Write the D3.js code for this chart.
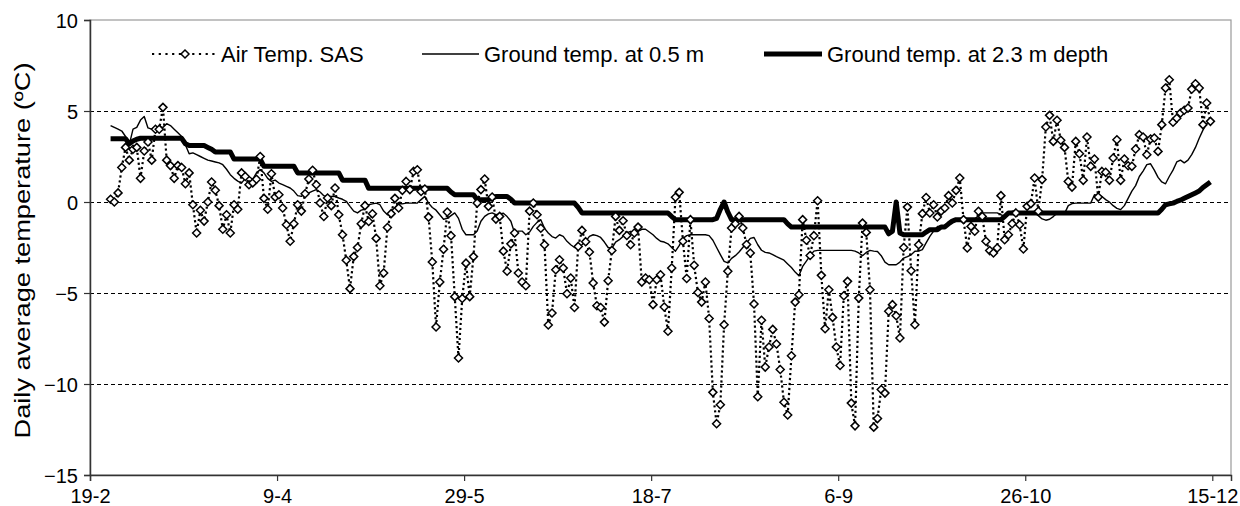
<!DOCTYPE html>
<html>
<head>
<meta charset="utf-8">
<script src="https://cdn.jsdelivr.net/npm/d3@7/dist/d3.min.js"></script>
<style>
  html, body { margin: 0; padding: 0; background: #fff; }
  svg { display: block; font-family: "Liberation Sans", Arial, sans-serif; }
</style>
</head>
<body>
<svg id="chart" width="1240" height="506"></svg>
<script>
// First day of the record and axis extent (2008, a leap year)
const firstDay = "2008-02-24";
const axisStart = "2008-02-19";
const axisEnd = "2008-12-20";

// Tick positions on the date axis (every 50 days)
const tickDates = ["2008-02-19", "2008-04-09", "2008-05-29", "2008-07-18",
                   "2008-09-06", "2008-10-26", "2008-12-15"];
const yTicks = [10, 5, 0, -5, -10, -15];
const gridValues = [5, 0, -5, -10];

// Daily average air temperature at SAS (ºC)
const airTemp = [
  0.15, 0.0, 0.5, 1.9, 3.0, 2.3, 2.9, 3.0, 1.3, 2.8,
  3.3, 2.3, 4.0, 4.0, 5.2, 2.3, 2.0, 1.3, 2.0, 1.9,
  1.0, 1.6, -0.15, -1.7, -0.45, -1.05, 0.0, 1.1, 0.65, -0.2,
  -1.5, -0.7, -1.7, -0.15, -0.4, 1.6, 1.4, 0.95, 1.05, 1.25,
  2.5, 0.2, -0.4, 1.55, 0.27, 0.4, -0.33, -1.25, -2.16, -1.2,
  -0.15, -0.5, 0.45, 1.26, 1.74, 0.95, -0.05, -0.8, 0.22, -0.2,
  0.77, -0.7, -1.8, -3.2, -4.76, -3.0, -2.5, -1.2, -0.2, -1.07,
  -0.65, -2.0, -4.6, -3.9, -1.4, -0.64, 0.2, -0.33, 0.64, 1.13,
  0.68, 1.68, 1.77, 0.58, 0.71, -0.83, -3.3, -6.87, -4.4, -2.6,
  -0.55, -1.85, -5.2, -8.57, -5.3, -3.36, -5.2, -3.0, -0.06, 0.68,
  1.26, -0.24, 0.27, -0.94, -0.79, -2.7, -3.8, -2.3, -1.7, -3.9,
  -4.4, -4.6, -0.5, -0.06, -0.7, -1.44, -2.35, -6.76, -6.1, -3.72,
  -3.17, -3.63, -5.04, -4.18, -5.8, -2.44, -1.56, -2.18, -2.75, -4.45,
  -5.7, -5.8, -6.6, -4.33, -2.66, -0.79, -1.56, -1.03, -1.84, -2.35,
  -1.7, -1.38, -4.4, -4.18, -4.27, -5.64, -4.27, -4.0, -5.77, -7.1,
  -3.63, 0.26, 0.53, -2.16, -4.2, -0.97, -3.48, -4.97, -5.5, -4.4,
  -6.4, -10.46, -12.18, -11.14, -6.74, -3.8, -1.43, -1.19, -0.79, -1.43,
  -2.34, -2.8, -5.6, -10.7, -6.5, -9.07, -7.97, -7.0, -7.8, -9.2,
  -11.0, -11.7, -8.45, -5.5, -5.1, -0.97, -2.1, -2.94, -1.85, 0.07,
  -4.03, -6.96, -4.82, -6.34, -7.97, -8.98, -5.15, -4.36, -11.05, -12.3,
  -5.28, -1.16, -1.67, -4.82, -12.37, -11.9, -10.3, -10.5, -6.0, -5.64,
  -6.25, -7.47, -2.5, -0.28, -3.78, -6.74, -2.35, -0.64, 0.25, -0.6,
  -0.15, -0.82, -0.5, -0.33, 0.35, -0.05, 0.64, 1.32, -0.97, -2.53,
  -1.34, -1.61, -0.51, -0.79, -2.16, -2.67, -2.8, -2.53, 0.35, -2.07,
  -1.8, -1.19, -0.6, -1.25, -2.58, -0.24, -0.09, 1.32, -0.51, 1.23,
  4.12, 4.76, 3.33, 4.49, 3.39, 3.0, 1.13, 0.82, 3.33, 2.65,
  1.19, 3.57, 1.96, 2.36, 0.27, 1.68, 1.63, 1.19, 2.42, 3.42,
  1.19, 2.36, 1.99, 1.96, 2.91, 3.7, 3.57, 2.6, 3.46, 3.52,
  2.78, 4.25, 6.26, 6.72, 4.38, 4.6, 4.89, 5.04, 5.16, 6.2,
  6.5, 6.26, 4.25, 5.44, 4.43
];

// Daily average ground temperature at 0.5 m (ºC)
const ground05 = [
  4.2, 4.1, 4.0, 3.9, 3.6, 3.15, 4.0, 4.1, 4.5, 4.7,
  4.07, 4.0, 4.1, 4.15, 4.1, 4.3, 4.2, 4.0, 3.8, 3.6,
  3.15, 2.65, 2.7, 2.6, 2.5, 2.4, 2.3, 2.25, 2.2, 2.15,
  2.05, 1.8, 1.5, 1.3, 1.15, 1.04, 1.3, 1.4, 1.25, 1.6,
  1.78, 1.6, 1.3, 1.13, 1.2, 1.04, 0.95, 0.86, 0.77, 0.6,
  0.35, 0.31, 0.46, 0.5, 0.6, 0.68, 0.55, 0.35, 0.31, 0.31,
  0.3, 0.22, 0.15, 0.04, -0.24, -0.5, -0.6, -0.45, -0.4, -0.15,
  -0.1, -0.06, -0.15, -0.5, -0.7, -0.51, -0.3, -0.1, -0.1, -0.06,
  -0.06, -0.06, -0.06, 0.13, 0.31, -0.06, -0.3, -0.45, -0.7, -0.95,
  -0.9, -0.75, -0.6, -0.9, -1.5, -1.8, -1.8, -1.8, -1.6, -1.06,
  -0.79, -0.65, -0.6, -0.7, -0.65, -0.62, -0.8, -1.06, -1.7, -1.6,
  -1.6, -1.8, -1.65, -1.34, -1.12, -0.97, -1.45, -1.7, -1.9, -1.98,
  -1.8, -1.89, -2.16, -2.35, -2.5, -2.53, -2.35, -2.16, -1.89, -1.8,
  -1.85, -1.95, -2.2, -2.5, -2.55, -2.2, -2.07, -1.89, -1.7, -1.61,
  -1.67, -1.61, -1.5, -1.5, -1.65, -1.8, -2.0, -2.16, -2.2, -2.3,
  -2.5, -2.7, -2.4, -2.0, -1.85, -1.8, -1.8, -1.8, -1.8, -1.8,
  -1.85, -2.1, -2.5, -2.89, -3.26, -3.35, -3.1, -2.95, -2.75, -2.5,
  -2.25, -2.0, -1.95, -2.35, -2.65, -2.77, -2.8, -2.89, -3.0, -3.1,
  -3.2, -3.4, -3.6, -3.85, -4.05, -3.54, -3.25, -2.95, -2.7, -2.66,
  -2.66, -2.66, -2.66, -2.66, -2.66, -2.66, -2.66, -2.66, -2.66, -2.7,
  -2.8, -2.95, -2.77, -2.66, -2.7, -2.72, -2.95, -3.3, -3.45, -3.45,
  -3.45, -3.3, -3.08, -3.0, -2.9, -2.71, -2.7, -2.62, -2.25, -1.89,
  -1.6, -1.35, -1.34, -1.3, -1.15, -1.06, -0.97, -0.97, -0.93, -0.93,
  -0.93, -0.93, -0.75, -0.6, -0.6, -0.6, -0.6, -0.6, -0.7, -0.79,
  -0.6, -0.51, -0.51, -0.55, -0.6, -0.57, -0.57, -0.6, -0.75, -0.93,
  -1.0, -0.95, -0.8, -0.62, -0.6, -0.64, -0.2, -0.09, -0.06, -0.06,
  -0.06, -0.06, -0.06, 0.4, 0.35, 0.3, 0.13, 0.0, -0.2, -0.35,
  -0.42, -0.2, 0.2, 0.6, 0.9, 1.4, 1.7, 2.05, 2.1, 1.75,
  1.35, 1.1, 1.0, 1.4, 1.75, 2.2, 2.3, 2.15, 2.3, 2.6,
  3.0, 3.5, 3.95, 4.3, 4.45
];

// Daily average ground temperature at 2.3 m depth (ºC)
const ground23 = [
  3.48, 3.48, 3.48, 3.48, 3.48, 3.2, 3.35, 3.45, 3.5, 3.5,
  3.5, 3.5, 3.5, 3.5, 3.5, 3.5, 3.5, 3.5, 3.5, 3.5,
  3.2, 3.1, 3.1, 3.1, 3.1, 3.1, 3.0, 2.9, 2.75, 2.75,
  2.75, 2.75, 2.75, 2.36, 2.36, 2.36, 2.36, 2.36, 2.36, 2.36,
  2.36, 1.96, 1.96, 1.96, 1.96, 1.96, 1.96, 1.96, 1.96, 1.96,
  1.6, 1.6, 1.6, 1.6, 1.6, 1.6, 1.6, 1.6, 1.6, 1.6,
  1.6, 1.6, 1.2, 1.2, 1.2, 1.2, 1.2, 1.2, 1.2, 0.75,
  0.75, 0.75, 0.75, 0.75, 0.75, 0.75, 0.75, 0.75, 0.75, 0.75,
  0.75, 0.75, 0.75, 0.75, 0.75, 0.75, 0.75, 0.75, 0.75, 0.75,
  0.75, 0.55, 0.4, 0.4, 0.4, 0.4, 0.4, 0.4, 0.13, 0.13,
  0.13, 0.13, 0.2, 0.3, 0.3, 0.3, 0.3, 0.15, -0.06, -0.06,
  -0.06, -0.06, -0.06, -0.06, -0.06, -0.06, -0.06, -0.06, -0.06, -0.06,
  -0.06, -0.06, -0.06, -0.06, -0.06, -0.3, -0.6, -0.6, -0.6, -0.6,
  -0.6, -0.6, -0.6, -0.6, -0.6, -0.6, -0.6, -0.6, -0.6, -0.6,
  -0.6, -0.6, -0.6, -0.6, -0.6, -0.6, -0.6, -0.6, -0.6, -0.6,
  -0.8, -0.97, -0.97, -0.97, -0.97, -0.97, -0.97, -0.97, -0.97, -0.97,
  -0.97, -0.97, -0.9, -0.4, 0.0, -0.55, -0.97, -0.97, -0.97, -0.97,
  -0.97, -0.97, -0.97, -0.97, -0.97, -0.97, -0.97, -0.97, -0.97, -0.97,
  -0.97, -1.2, -1.38, -1.38, -1.38, -1.38, -1.38, -1.38, -1.38, -1.38,
  -1.38, -1.38, -1.38, -1.38, -1.38, -1.38, -1.38, -1.38, -1.38, -1.38,
  -1.38, -1.38, -1.38, -1.38, -1.38, -1.38, -1.38, -1.38, -1.75, -1.6,
  0.0, -1.7, -1.8, -1.8, -1.8, -1.8, -1.8, -1.8, -1.65, -1.52,
  -1.52, -1.52, -1.37, -1.37, -1.2, -1.05, -0.97, -0.97, -0.97, -0.97,
  -0.97, -0.97, -0.97, -0.97, -0.97, -0.97, -0.97, -0.97, -0.97, -0.8,
  -0.6, -0.6, -0.6, -0.6, -0.6, -0.6, -0.6, -0.6, -0.6, -0.6,
  -0.6, -0.6, -0.6, -0.6, -0.6, -0.6, -0.6, -0.6, -0.6, -0.6,
  -0.6, -0.6, -0.6, -0.6, -0.6, -0.6, -0.6, -0.6, -0.6, -0.6,
  -0.6, -0.6, -0.6, -0.6, -0.6, -0.6, -0.6, -0.6, -0.6, -0.6,
  -0.6, -0.4, -0.15, -0.1, -0.06, 0.03, 0.1, 0.2, 0.3, 0.4,
  0.5, 0.6, 0.8, 0.95, 1.1
];

const legendLabels = ["Air Temp. SAS", "Ground temp. at 0.5 m", "Ground temp. at 2.3 m depth"];
const yTitle = "Daily average temperature (ºC)";

// ---- layout ----
const svg = d3.select("#chart");
const plot = { left: 90, right: 1231, top: 20, bottom: 475 };

const parse = d3.utcParse("%Y-%m-%d");
const fmt = d3.utcFormat("%-d-%-m");

const x = d3.scaleUtc()
  .domain([parse(axisStart), parse(axisEnd)])
  .range([plot.left, plot.right]);
const y = d3.scaleLinear().domain([-15, 10]).range([plot.bottom, plot.top]);

// daily values are placed at midday
const start = d3.utcHour.offset(parse(firstDay), 12);
const toSeries = arr => arr.map((v, i) => ({ date: d3.utcDay.offset(start, i), v }));
const airS = toSeries(airTemp);
const g05S = toSeries(ground05);
const g23S = toSeries(ground23);

// plot frame (light grey top/right edges)
svg.append("rect")
  .attr("x", plot.left).attr("y", plot.top)
  .attr("width", plot.right - plot.left).attr("height", plot.bottom - plot.top)
  .attr("fill", "none").attr("stroke", "#9a9a9a").attr("stroke-width", 1.2);

// dashed horizontal gridlines
svg.append("g").selectAll("line").data(gridValues).join("line")
  .attr("x1", plot.left).attr("x2", plot.right)
  .attr("y1", d => Math.round(y(d)) + 0.5).attr("y2", d => Math.round(y(d)) + 0.5)
  .attr("stroke", "#000").attr("stroke-width", 1)
  .attr("stroke-dasharray", "4,3");

// axes
const yAxis = d3.axisLeft(y).tickValues(yTicks).tickSize(6).tickPadding(6).tickFormat(d3.format("d"));
const gy = svg.append("g").attr("transform", `translate(${plot.left},0)`).call(yAxis);
const xAxis = d3.axisBottom(x).tickValues(tickDates.map(parse)).tickSize(6).tickPadding(8).tickFormat(fmt);
const gx = svg.append("g").attr("transform", `translate(0,${plot.bottom})`).call(xAxis);
[gx, gy].forEach(g => {
  g.select(".domain").attr("stroke", "#333").attr("stroke-width", 1.5);
  g.selectAll(".tick line").attr("stroke", "#333").attr("stroke-width", 1.2);
  g.selectAll("text").attr("fill", "#000").style("font-size", "20px")
    .style("font-family", '"Liberation Sans", Arial, sans-serif');
});
gy.selectAll("text").attr("dy", "0.36em");

// y axis title
svg.append("text")
  .attr("transform", `translate(30,${(plot.top + plot.bottom) / 2 + 3}) rotate(-90)`)
  .attr("text-anchor", "middle")
  .attr("textLength", 376).attr("lengthAdjust", "spacingAndGlyphs")
  .style("font-size", "22px")
  .text(yTitle);

// series lines
const line = d3.line().x(d => x(d.date)).y(d => y(d.v));

svg.append("path").datum(g23S)
  .attr("d", line).attr("fill", "none")
  .attr("stroke", "#000").attr("stroke-width", 5).attr("stroke-linejoin", "round");

svg.append("path").datum(g05S)
  .attr("d", line).attr("fill", "none")
  .attr("stroke", "#000").attr("stroke-width", 1.4).attr("stroke-linejoin", "round");

svg.append("path").datum(airS)
  .attr("d", line).attr("fill", "none")
  .attr("stroke", "#000").attr("stroke-width", 2.2).attr("stroke-dasharray", "2.2,2.8");

const diamond = "M0,-4L4,0L0,4L-4,0Z";
svg.append("g").selectAll("path").data(airS).join("path")
  .attr("transform", d => `translate(${x(d.date)},${y(d.v)})`)
  .attr("d", diamond)
  .attr("fill", "#fff").attr("stroke", "#000").attr("stroke-width", 1.5);

// legend
const lg = svg.append("g");
const ly = 54;
lg.append("line").attr("x1", 152).attr("x2", 218).attr("y1", ly).attr("y2", ly)
  .attr("stroke", "#000").attr("stroke-width", 2.2).attr("stroke-dasharray", "2.2,4.5");
lg.append("path").attr("transform", `translate(185,${ly})`).attr("d", diamond)
  .attr("fill", "#fff").attr("stroke", "#000").attr("stroke-width", 1.5);
lg.append("text").attr("x", 221).attr("y", ly + 8).style("font-size", "22px").text(legendLabels[0]);

lg.append("line").attr("x1", 422).attr("x2", 479).attr("y1", ly).attr("y2", ly)
  .attr("stroke", "#000").attr("stroke-width", 1.4);
lg.append("text").attr("x", 484).attr("y", ly + 8).style("font-size", "22px").text(legendLabels[1]);

lg.append("line").attr("x1", 764).attr("x2", 822).attr("y1", ly).attr("y2", ly)
  .attr("stroke", "#000").attr("stroke-width", 5);
lg.append("text").attr("x", 827).attr("y", ly + 8).style("font-size", "22px").text(legendLabels[2]);
</script>
</body>
</html>
